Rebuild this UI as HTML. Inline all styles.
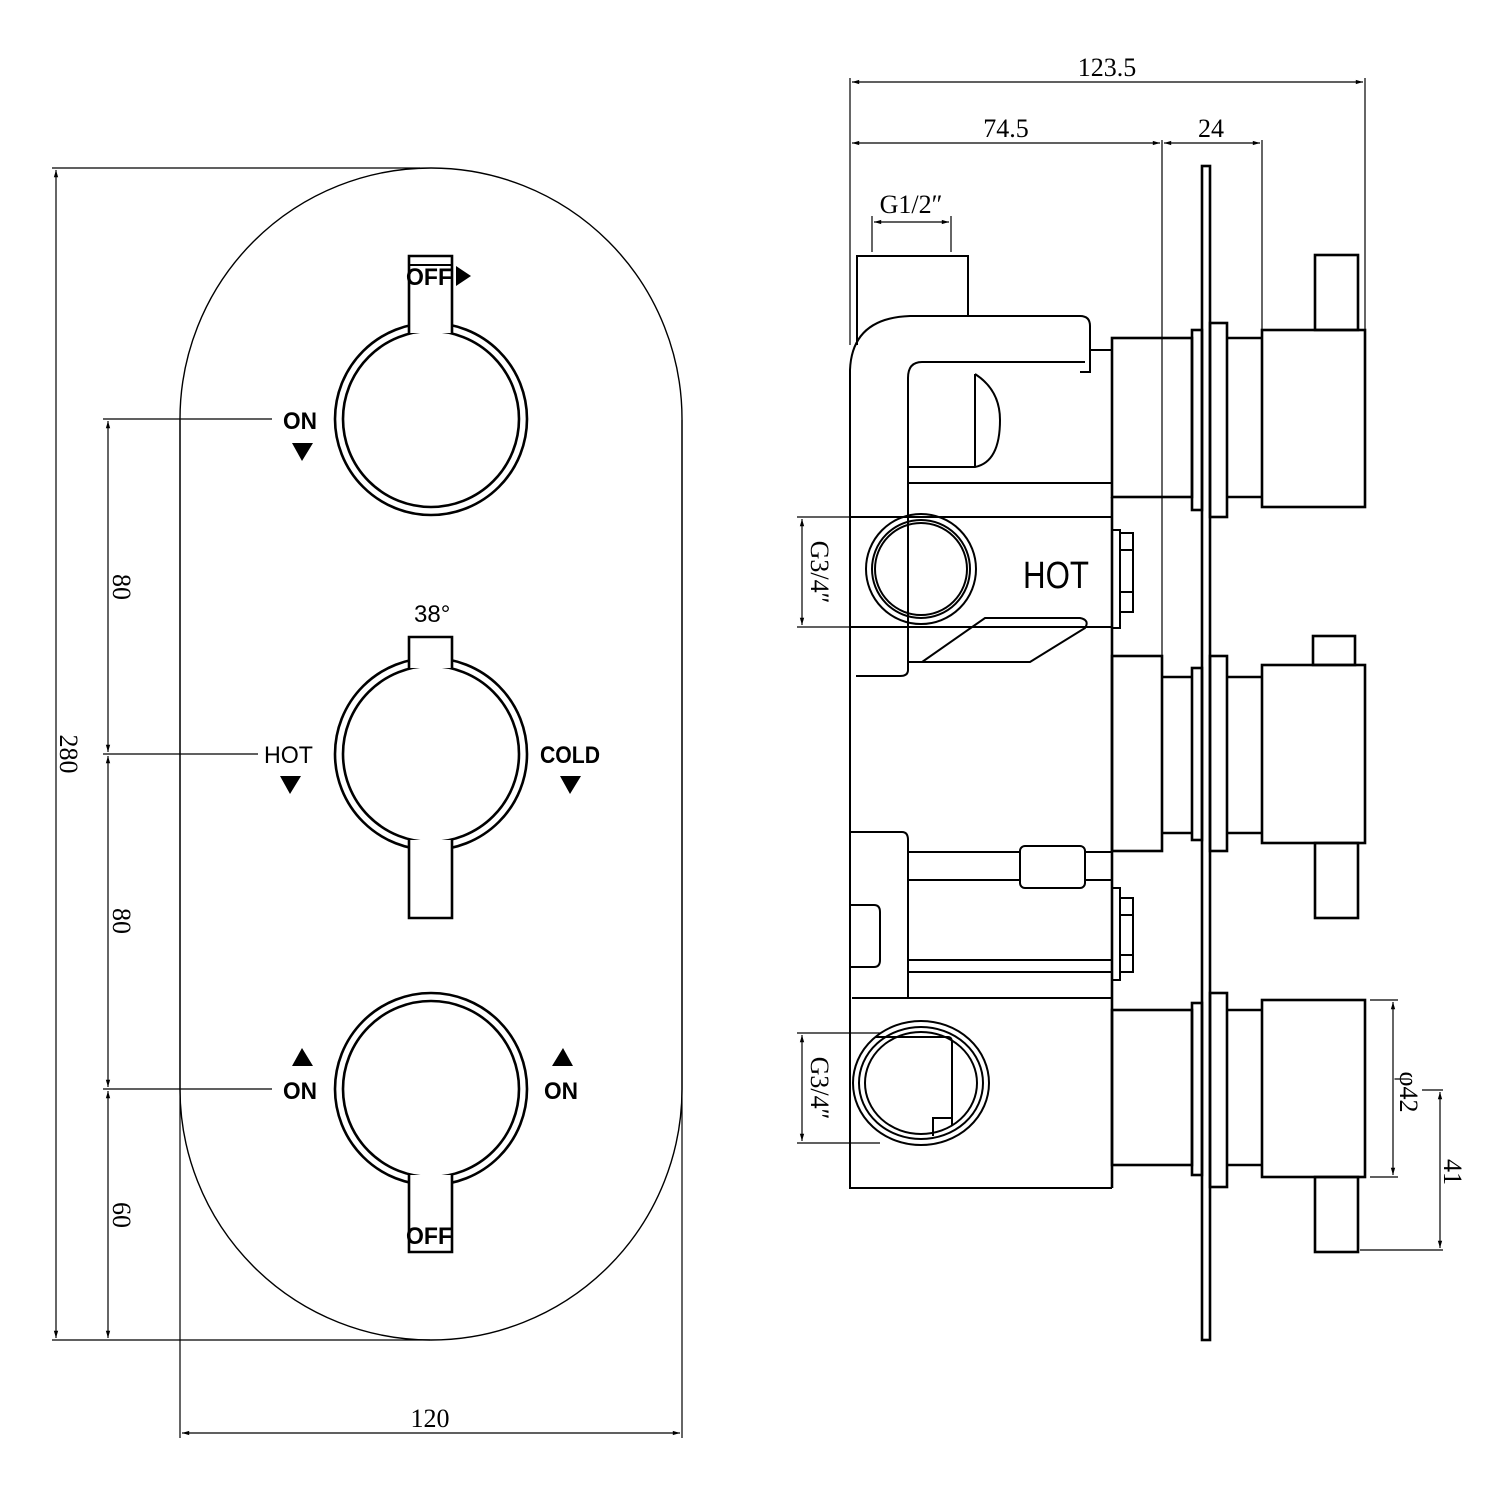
<!DOCTYPE html>
<html><head><meta charset="utf-8"><style>
html,body{margin:0;padding:0;background:#fff;}
svg{display:block}
.o{fill:none;stroke:#000;stroke-width:2.6}
.t{fill:none;stroke:#000;stroke-width:1.4}
.d{fill:none;stroke:#000;stroke-width:1.2}
.dim{font-family:"Liberation Serif",serif;font-size:26px;fill:#000}
.lab{font-family:"Liberation Sans",sans-serif;font-weight:bold;font-size:24px;fill:#000}
</style></head><body>
<svg width="1500" height="1500" viewBox="0 0 1500 1500" xmlns="http://www.w3.org/2000/svg">
<defs>
<marker id="a" viewBox="0 0 10 10" refX="10" refY="5" markerWidth="12" markerHeight="6" orient="auto-start-reverse"><path d="M0,2 L10,5 L0,8" fill="#000"/></marker>
</defs>
<!-- LEFT VIEW -->
<path class="t" d="M180,419 A251,251 0 0 1 682,419 L682,1089 A251,251 0 0 1 180,1089 Z"/>
<g class="o">
<circle cx="431" cy="419" r="96"/><circle cx="431" cy="419" r="88"/>
<circle cx="431" cy="754" r="96"/><circle cx="431" cy="754" r="88"/>
<circle cx="431" cy="1089" r="96"/><circle cx="431" cy="1089" r="88"/>
</g>
<g class="o" style="fill:#fff">
<path d="M409,333 L409,256 L452,256 L452,333"/>
<path d="M409,668 L409,637 L452,637 L452,668"/>
<path d="M409,840 L409,918 L452,918 L452,840"/>
<path d="M409,1175 L409,1252 L452,1252 L452,1175"/>
</g>
<line x1="409" y1="265" x2="452" y2="265" stroke="#000" stroke-width="2"/>
<text class="lab" x="406" y="285" textLength="46" lengthAdjust="spacingAndGlyphs">OFF</text>
<path d="M456,266 L471,276 L456,286 Z"/>
<text class="lab" x="283" y="429" textLength="34" lengthAdjust="spacingAndGlyphs">ON</text>
<path d="M292,443 L313,443 L302,461 Z"/>
<text class="lab" x="414" y="622" style="font-weight:normal">38°</text>
<text class="lab" x="264" y="763" style="font-weight:normal" textLength="49" lengthAdjust="spacingAndGlyphs">HOT</text>
<path d="M280,776 L301,776 L290,794 Z"/>
<text class="lab" x="540" y="763" textLength="60" lengthAdjust="spacingAndGlyphs">COLD</text>
<path d="M560,776 L581,776 L570,794 Z"/>
<path d="M292,1066 L313,1066 L302,1048 Z"/>
<text class="lab" x="283" y="1099" textLength="34" lengthAdjust="spacingAndGlyphs">ON</text>
<path d="M552,1066 L573,1066 L563,1048 Z"/>
<text class="lab" x="544" y="1099" textLength="34" lengthAdjust="spacingAndGlyphs">ON</text>
<text class="lab" x="406" y="1244" textLength="46" lengthAdjust="spacingAndGlyphs">OFF</text>
<g class="d">
<line x1="52" y1="168" x2="420" y2="168"/>
<line x1="52" y1="1340" x2="430" y2="1340"/>
<line x1="56" y1="170" x2="56" y2="1338" marker-start="url(#a)" marker-end="url(#a)"/>
<line x1="103" y1="419" x2="272" y2="419"/>
<line x1="103" y1="754" x2="258" y2="754"/>
<line x1="103" y1="1089" x2="272" y2="1089"/>
<line x1="108" y1="421" x2="108" y2="752" marker-start="url(#a)" marker-end="url(#a)"/>
<line x1="108" y1="756" x2="108" y2="1087" marker-start="url(#a)" marker-end="url(#a)"/>
<line x1="108" y1="1091" x2="108" y2="1338" marker-start="url(#a)" marker-end="url(#a)"/>
<line x1="180" y1="420" x2="180" y2="1438"/>
<line x1="682" y1="420" x2="682" y2="1438"/>
<line x1="182" y1="1433" x2="680" y2="1433" marker-start="url(#a)" marker-end="url(#a)"/>
</g>
<text class="dim" transform="translate(60,754) rotate(90)" text-anchor="middle">280</text>
<text class="dim" transform="translate(113,587) rotate(90)" text-anchor="middle">80</text>
<text class="dim" transform="translate(113,921) rotate(90)" text-anchor="middle">80</text>
<text class="dim" transform="translate(113,1215) rotate(90)" text-anchor="middle">60</text>
<text class="dim" x="430" y="1427" text-anchor="middle">120</text>

<!-- RIGHT VIEW -->
<rect x="1202" y="166" width="8" height="1174" class="o"/>
<g class="o">
<rect x="1112" y="338" width="80" height="159"/>
<rect x="1192" y="330" width="10" height="180"/>
<rect x="1210" y="323" width="17" height="194"/>
<path d="M1227,338 L1262,338 M1227,497 L1262,497"/>
<rect x="1262" y="330" width="103" height="177"/>
<rect x="1315" y="255" width="43" height="75"/>
<rect x="1112" y="656" width="50" height="195"/>
<path d="M1162,677 L1192,677 M1162,833 L1192,833"/>
<rect x="1192" y="668" width="10" height="172"/>
<rect x="1210" y="656" width="17" height="195"/>
<path d="M1227,677 L1262,677 M1227,833 L1262,833"/>
<rect x="1262" y="665" width="103" height="178"/>
<rect x="1313" y="636" width="42" height="29"/>
<rect x="1315" y="843" width="43" height="75"/>
<rect x="1112" y="1010" width="80" height="155"/>
<rect x="1192" y="1003" width="10" height="172"/>
<rect x="1210" y="993" width="17" height="194"/>
<path d="M1227,1010 L1262,1010 M1227,1165 L1262,1165"/>
<rect x="1262" y="1000" width="103" height="177"/>
<rect x="1315" y="1177" width="43" height="75"/>
<path d="M1112,497 L1112,1188"/>
</g>
<g class="o" style="stroke-width:2">
<path d="M857,345 L857,256 L968,256 L968,316"/>
<path d="M850,680 L850,370 Q852,318 910,316 L1080,316 Q1090,316 1090,326 L1090,372 L1080,372 M1090,372 L1090,350 L1112,350"/>
<path d="M1085,362 L922,362 Q908,362 908,378 L908,670 Q908,676 900,676 L856,676"/>
<path d="M975,374 Q1000,390 1000,420 Q1000,462 975,467 L908,467 M975,374 L975,467"/>
<path d="M908,483 L1112,483"/>
<path d="M850,517 L1112,517 M850,627 L1112,627"/>
<path d="M922,662 L1030,662 L1085,628 Q1090,620 1080,618 L985,618 Z"/>
<path d="M908,662 L922,662"/>
<rect x="1112" y="530" width="8" height="98"/>
<rect x="1120" y="533" width="13" height="79"/>
<path d="M1120,550 L1133,550 M1120,592 L1133,592"/>
<path d="M850,680 L850,1188 L1112,1188"/>
<path d="M850,832 L902,832 Q908,832 908,840 L908,998 L852,998"/>
<path d="M908,852 L1020,852 M1085,852 L1112,852 M908,880 L1020,880 M1085,880 L1112,880"/>
<rect x="1020" y="846" width="65" height="42" rx="5"/>
<path d="M850,905 L874,905 Q880,905 880,912 L880,960 Q880,967 874,967 L850,967"/>
<path d="M908,960 L1112,960 M908,972 L1112,972"/>
<rect x="1112" y="888" width="8" height="92"/>
<rect x="1120" y="898" width="13" height="74"/>
<path d="M1120,915 L1133,915 M1120,955 L1133,955"/>
<path d="M852,998 L1112,998"/>
</g>
<g class="o" style="stroke-width:2">
<circle cx="921" cy="569" r="55"/>
<circle cx="921" cy="569" r="49"/>
<circle cx="921" cy="569" r="46"/>
<ellipse cx="921" cy="1083" rx="68" ry="62"/>
<ellipse cx="921" cy="1083" rx="62" ry="56"/>
<ellipse cx="921" cy="1083" rx="56" ry="51"/>
<path d="M875,1037 L948,1037 Q952,1037 952,1043 L952,1125 M933,1136 L933,1118 L952,1118"/>
</g>
<text x="1023" y="588" style="font-family:'Liberation Sans',sans-serif;font-size:38px" textLength="66" lengthAdjust="spacingAndGlyphs">HOT</text>
<g class="d">
<line x1="850" y1="78" x2="850" y2="345"/>
<line x1="1365" y1="78" x2="1365" y2="330"/>
<line x1="852" y1="82" x2="1363" y2="82" marker-start="url(#a)" marker-end="url(#a)"/>
<line x1="1162" y1="140" x2="1162" y2="655"/>
<line x1="1262" y1="140" x2="1262" y2="330"/>
<line x1="852" y1="143" x2="1160" y2="143" marker-start="url(#a)" marker-end="url(#a)"/>
<line x1="1164" y1="143" x2="1260" y2="143" marker-start="url(#a)" marker-end="url(#a)"/>
<line x1="872" y1="216" x2="872" y2="252"/>
<line x1="951" y1="216" x2="951" y2="252"/>
<line x1="874" y1="222" x2="949" y2="222" marker-start="url(#a)" marker-end="url(#a)"/>
<line x1="797" y1="517" x2="850" y2="517"/>
<line x1="797" y1="627" x2="850" y2="627"/>
<line x1="802" y1="519" x2="802" y2="625" marker-start="url(#a)" marker-end="url(#a)"/>
<line x1="797" y1="1033" x2="880" y2="1033"/>
<line x1="797" y1="1143" x2="880" y2="1143"/>
<line x1="802" y1="1035" x2="802" y2="1141" marker-start="url(#a)" marker-end="url(#a)"/>
<line x1="1370" y1="1000" x2="1398" y2="1000"/>
<line x1="1370" y1="1177" x2="1398" y2="1177"/>
<line x1="1393" y1="1002" x2="1393" y2="1175" marker-start="url(#a)" marker-end="url(#a)"/>
<line x1="1422" y1="1090" x2="1443" y2="1090"/>
<line x1="1360" y1="1250" x2="1443" y2="1250"/>
<line x1="1440" y1="1092" x2="1440" y2="1248" marker-start="url(#a)" marker-end="url(#a)"/>
</g>
<text class="dim" x="1107" y="76" text-anchor="middle">123.5</text>
<text class="dim" x="1006" y="137" text-anchor="middle">74.5</text>
<text class="dim" x="1211" y="137" text-anchor="middle">24</text>
<text class="dim" x="911" y="213" text-anchor="middle">G1/2″</text>
<text class="dim" transform="translate(811,572) rotate(90)" text-anchor="middle">G3/4″</text>
<text class="dim" transform="translate(811,1088) rotate(90)" text-anchor="middle">G3/4″</text>
<text class="dim" transform="translate(1400,1092) rotate(90)" text-anchor="middle">φ42</text>
<text class="dim" transform="translate(1444,1172) rotate(90)" text-anchor="middle">41</text>
</svg>
</body></html>
